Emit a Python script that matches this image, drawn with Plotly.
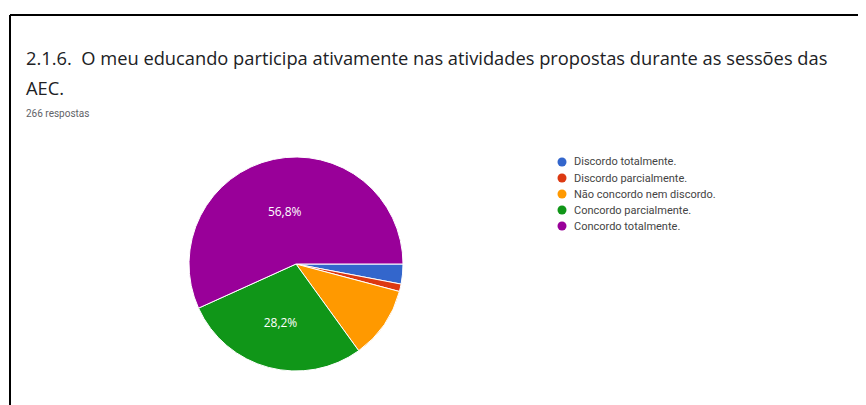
import plotly.graph_objects as go

# survey answers (266 respostas)
categorias = [
    "Discordo totalmente.",
    "Discordo parcialmente.",
    "Não concordo nem discordo.",
    "Concordo parcialmente.",
    "Concordo totalmente.",
]
respostas = [8, 3, 29, 75, 151]
cores = ["#3366cc", "#dc3912", "#ff9900", "#109618", "#990099"]

# the page has an 8px body margin, so the figure is a bit smaller than the window
OFF = 8
W, H = 866 - OFF, 405 - OFF


def px(x):
    return (x - OFF) / W


def py(y):
    return 1 - (y - OFF) / H


total = sum(respostas)

# only the big slices get a label, with comma as decimal mark
rotulos = []
for v in respostas:
    pct = v / total * 100
    rotulos.append(f"{pct:.1f}".replace(".", ",") + "%" if pct > 20 else "")

fig = go.Figure()

cx, cy, r = 296, 264, 107
fig.add_trace(
    go.Pie(
        labels=categorias,
        values=respostas,
        text=rotulos,
        textinfo="text",
        textposition="inside",
        insidetextorientation="horizontal",
        textfont={"family": "Open Sans", "size": 12, "color": "white"},
        marker={"colors": cores, "line": {"color": "white", "width": 1}},
        sort=False,
        direction="clockwise",
        rotation=90,
        showlegend=False,
        hoverinfo="label+percent",
        domain={"x": [px(cx - r), px(cx + r)], "y": [py(cy + r), py(cy - r)]},
    )
)

anotacoes = [
    {
        "text": "2.1.6.  O meu educando participa ativamente nas atividades propostas durante as sessões das",
        "x": px(24),
        "y": py(58),
        "font": {"family": "Open Sans", "size": 18.3, "color": "#202124"},
    },
    {
        "text": "AEC.",
        "x": px(24),
        "y": py(88),
        "font": {"family": "Open Sans", "size": 18.3, "color": "#202124"},
    },
    {
        "text": "266 respostas",
        "x": px(24),
        "y": py(113),
        "font": {"family": "Roboto", "size": 10, "color": "#5f6368"},
    },
]

# legend drawn by hand: round markers, 16px rows like the Google Forms one
formas = [
    {
        "type": "line", "xref": "paper", "yref": "paper",
        "x0": px(10), "x1": 1, "y0": py(15), "y1": py(15),
        "line": {"color": "black", "width": 2},
    },
    {
        "type": "line", "xref": "paper", "yref": "paper",
        "x0": px(10), "x1": px(10), "y0": py(15), "y1": 0,
        "line": {"color": "black", "width": 2},
    },
]
for i, (nome, cor) in enumerate(zip(categorias, cores)):
    yy = 162 + 16 * i
    formas.append(
        {
            "type": "circle", "xref": "paper", "yref": "paper",
            "xsizemode": "pixel", "ysizemode": "pixel",
            "xanchor": px(562), "yanchor": py(yy),
            "x0": -4.5, "x1": 4.5, "y0": -4.5, "y1": 4.5,
            "fillcolor": cor, "line": {"width": 0},
        }
    )
    anotacoes.append(
        {
            "text": nome,
            "x": px(572),
            "y": py(yy),
            "font": {"family": "Roboto", "size": 11, "color": "#444444"},
        }
    )

for a in anotacoes:
    a.update({"xref": "paper", "yref": "paper", "xanchor": "left",
              "yanchor": "middle", "showarrow": False})

fig.update_layout(
    width=W,
    height=H,
    margin={"l": 0, "r": 0, "t": 0, "b": 0},
    paper_bgcolor="white",
    plot_bgcolor="white",
    font={"family": "Roboto"},
    annotations=anotacoes,
    shapes=formas,
)

fig.write_html("out.html")
